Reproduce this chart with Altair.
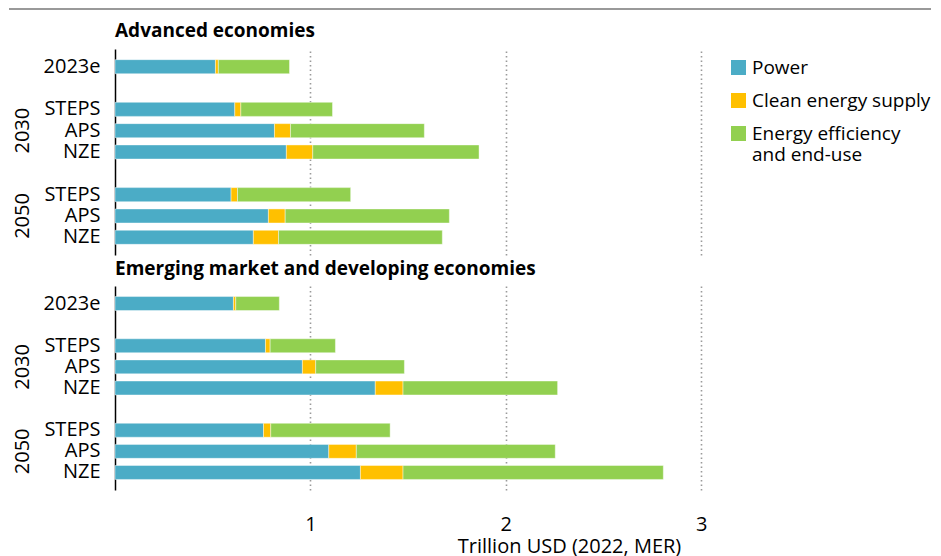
import altair as alt
import pandas as pd

# ---------------- data ----------------
regions = ["Advanced economies", "Emerging market and developing economies"]
row_keys = ["2023e", "STEPS|2030", "APS|2030", "NZE|2030", "STEPS|2050", "APS|2050", "NZE|2050"]
y_domain = ["2023e", " ", "STEPS|2030", "APS|2030", "NZE|2030", "  ", "STEPS|2050", "APS|2050", "NZE|2050"]
components = ["Power", "Clean energy supply", "Energy efficiency and end-use"]
colors = ["#4BACC6", "#FFC000", "#92D050"]

ae_power = [0.514, 0.613, 0.816, 0.877, 0.594, 0.785, 0.708]
ae_clean = [0.015, 0.031, 0.082, 0.135, 0.033, 0.086, 0.129]
ae_eff = [0.364, 0.469, 0.685, 0.851, 0.579, 0.840, 0.838]

emde_power = [0.606, 0.770, 0.959, 1.332, 0.760, 1.094, 1.256]
emde_clean = [0.012, 0.024, 0.068, 0.142, 0.037, 0.141, 0.218]
emde_eff = [0.223, 0.334, 0.454, 0.791, 0.611, 1.018, 1.332]

group_years = ["2030", "2050"]
group_rows = ["APS|2030", "APS|2050"]
x_ticks = [1, 2, 3]
x_title = "Trillion USD (2022, MER)"

FONT = "Open Sans"


def long_df(power, clean, eff):
    recs = []
    for i, k in enumerate(row_keys):
        for j, (c, v) in enumerate(zip(components, [power[i], clean[i], eff[i]])):
            recs.append({"row": k, "component": c, "value": v, "order": j})
    return pd.DataFrame(recs)


grp_df = pd.DataFrame({"row": group_rows, "year": group_years})


def panel(df, title, bottom, height, title_y):
    if bottom:
        xaxis = alt.Axis(values=x_ticks, grid=True, gridDash=[1.5, 3], gridColor="#9a9a9a", gridWidth=1.6,
                         domain=False, ticks=False, tickSize=0, labels=True, labelFontSize=20,
                         labelFont=FONT, labelColor="black", labelPadding=24,
                         title=x_title, titleFont=FONT, titleFontSize=20, titleFontWeight="normal",
                         titleColor="black", titleX=454, titleY=56, titleAlign="center",
                         titleBaseline="middle", titleAnchor="start")
    else:
        xaxis = alt.Axis(values=x_ticks, grid=True, gridDash=[1.5, 3], gridColor="#9a9a9a", gridWidth=1.6,
                         domain=False, ticks=False, tickSize=0, labels=False, title=None)
    yscale = alt.Scale(domain=y_domain, paddingInner=0.34, paddingOuter=0.5)
    bars = alt.Chart(df).mark_bar(stroke="white", strokeWidth=0.6, strokeOpacity=0.7).encode(
        x=alt.X("value:Q", stack="zero", scale=alt.Scale(domain=[0, 3.05], nice=False), axis=xaxis),
        y=alt.Y("row:N", sort=y_domain, scale=yscale,
                axis=alt.Axis(title=None, domain=True, domainColor="black", domainWidth=1.5,
                              ticks=False, tickSize=0, labelFontSize=20, labelFont=FONT,
                              labelColor="black", labelPadding=15,
                              labelExpr="split(datum.value, '|')[0]")),
        color=alt.Color("component:N", scale=alt.Scale(domain=components, range=colors),
                        legend=alt.Legend(title=None, orient="none", legendX=614, legendY=9,
                                          symbolType="square", symbolSize=225, symbolStrokeWidth=0,
                                          labelFontSize=19, labelFont=FONT, labelColor="black",
                                          labelLimit=0, labelOffset=4, rowPadding=13, padding=0,
                                          labelExpr="datum.label == 'Energy efficiency and end-use' ? ['Energy efficiency', 'and end-use'] : datum.label")),
        order=alt.Order("order:Q"),
    )
    grp = alt.Chart(grp_df).mark_text(angle=270, align="center", baseline="middle",
                                      fontSize=20, font=FONT, color="black").encode(
        x=alt.value(-92), y=alt.Y("row:N", sort=y_domain, scale=yscale), text="year:N")
    ttl = alt.Chart(pd.DataFrame({"t": [title]})).mark_text(
        align="left", baseline="middle", fontSize=19, font=FONT, fontWeight="bold", color="black").encode(
        x=alt.value(0), y=alt.value(title_y), text="t:N")
    layers = [bars, grp, ttl]
    if not bottom:
        rule = alt.Chart(pd.DataFrame({"a": [0]})).mark_rule(color="#999999", strokeWidth=2).encode(
            x=alt.value(-106), x2=alt.value(816), y=alt.value(-40))
        layers.append(rule)
    return alt.layer(*layers).properties(width=596, height=height)


top = panel(long_df(ae_power, ae_clean, ae_eff), regions[0], False, 206, -18)
bot = panel(long_df(emde_power, emde_clean, emde_eff), regions[1], True, 204, -17)

chart = alt.vconcat(top, bot, spacing=5).properties(padding=0).configure_view(stroke=None)

chart.save("out.html", embed_options={"renderer": "svg", "actions": False})
